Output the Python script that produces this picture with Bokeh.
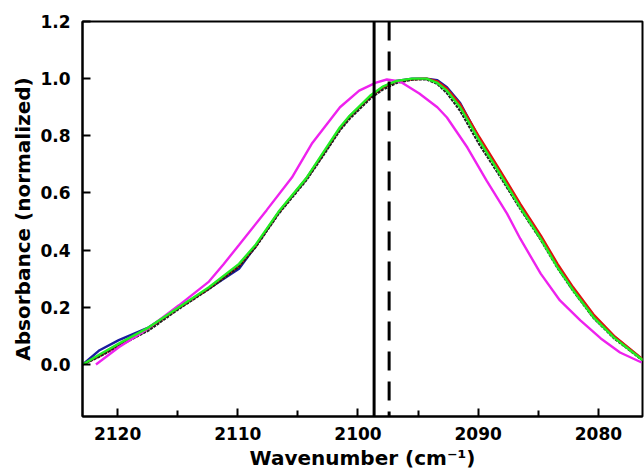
from bokeh.plotting import figure
from bokeh.models import Range1d, FixedTicker, Span, PrintfTickFormatter
from bokeh.embed import file_html
from bokeh.resources import INLINE

# ---- data ----
wn_main = [2122.9, 2121.5, 2119.9, 2117.4, 2114.9, 2112.4, 2109.9, 2108.5, 2106.6,
           2104.3, 2103.0, 2101.5, 2100.7, 2099.0, 2097.95, 2096.8, 2095.5, 2094.3,
           2093.4, 2092.6, 2091.5, 2089.9, 2088.2, 2086.5, 2084.8, 2083.4, 2082.1,
           2080.4, 2078.7, 2076.3]
abs_green = [0.0, 0.035, 0.073, 0.13, 0.2, 0.27, 0.352, 0.42, 0.535,
             0.652, 0.735, 0.83, 0.87, 0.94, 0.972, 0.992, 1.0, 1.0,
             0.985, 0.958, 0.9, 0.783, 0.668, 0.55, 0.44, 0.34, 0.26,
             0.165, 0.094, 0.015]
abs_blue = [0.0, 0.05, 0.085, 0.13, 0.2, 0.266, 0.335, 0.415, 0.532,
            0.65, 0.73, 0.825, 0.868, 0.935, 0.97, 0.992, 1.0, 1.0,
            0.995, 0.97, 0.915, 0.79, 0.675, 0.555, 0.445, 0.345, 0.265,
            0.17, 0.098, 0.016]
abs_red = [0.0, 0.03, 0.068, 0.125, 0.198, 0.266, 0.345, 0.415, 0.532,
           0.65, 0.73, 0.825, 0.866, 0.935, 0.968, 0.99, 0.998, 1.0,
           0.99, 0.965, 0.91, 0.795, 0.68, 0.562, 0.452, 0.352, 0.27,
           0.175, 0.1, 0.018]
abs_black = [0.0, 0.028, 0.065, 0.12, 0.195, 0.264, 0.342, 0.412, 0.528,
             0.645, 0.725, 0.82, 0.86, 0.93, 0.962, 0.985, 0.997, 0.998,
             0.982, 0.95, 0.888, 0.77, 0.66, 0.545, 0.437, 0.338, 0.258,
             0.163, 0.092, 0.014]

wn_magenta = [2121.8, 2119.9, 2117.4, 2114.9, 2112.4, 2111.2, 2109.9, 2107.6, 2105.5,
              2103.8, 2101.5, 2099.9, 2098.5, 2097.6, 2096.5, 2094.9, 2093.4, 2092.6,
              2090.9, 2089.3, 2087.6, 2086.5, 2084.8, 2083.2, 2081.5, 2079.8, 2078.2,
              2076.4]
abs_magenta = [0.0, 0.06, 0.128, 0.207, 0.29, 0.35, 0.418, 0.54, 0.654,
               0.775, 0.9, 0.958, 0.986, 0.997, 0.99, 0.948, 0.9, 0.864,
               0.759, 0.643, 0.528, 0.44, 0.318, 0.224, 0.154, 0.091, 0.042,
               0.007]

solid_line_wn = 2098.66
dashed_line_wn = 2097.41

x_ticks = [2120, 2110, 2100, 2090, 2080]
x_minor = [2115, 2105, 2095, 2085]
y_ticks = [0.0, 0.2, 0.4, 0.6, 0.8, 1.0, 1.2]

FONT = "DejaVu Sans"

p = figure(width=644, height=472, output_backend="svg", toolbar_location=None,
           x_range=Range1d(2122.92, 2076.33), y_range=Range1d(-0.182, 1.2),
           min_border_left=82, min_border_right=2, min_border_top=21, min_border_bottom=56)
p.background_fill_color = "white"
p.border_fill_color = "white"
p.grid.visible = False
p.outline_line_color = "black"
p.outline_line_width = 2
p.outline_line_alpha = 1.0

for ax in (p.xaxis[0], p.yaxis[0]):
    ax.axis_line_width = 2
    ax.axis_line_color = "black"
    ax.major_tick_in = 8
    ax.major_tick_out = 0
    ax.major_tick_line_width = 2
    ax.minor_tick_in = 6
    ax.minor_tick_out = 0
    ax.minor_tick_line_width = 2
    ax.major_label_text_font = FONT
    ax.major_label_text_font_style = "bold"
    ax.major_label_text_font_size = "17px"
    ax.major_label_text_color = "black"
    ax.axis_label_text_font = FONT
    ax.axis_label_text_font_style = "bold"
    ax.axis_label_text_font_size = "20px"
    ax.axis_label_text_color = "black"

p.xaxis.ticker = FixedTicker(ticks=x_ticks, minor_ticks=x_minor)
p.yaxis.ticker = FixedTicker(ticks=y_ticks, minor_ticks=[])
p.yaxis.formatter = PrintfTickFormatter(format="%.1f")
p.xaxis.major_label_standoff = 10
p.yaxis.major_label_standoff = 12
p.xaxis.axis_label = "Wavenumber (cm\u207b\u00b9)"
p.yaxis.axis_label = "Absorbance (normalized)"
p.xaxis.axis_label_standoff = 3
p.yaxis.axis_label_standoff = 2

lw = 2.4
p.line(wn_main, abs_blue, line_color="#1a1aa0", line_width=lw)
p.line(wn_main, abs_red, line_color="#e01010", line_width=lw)
p.line(wn_main, abs_black, line_color="#202020", line_width=lw, line_dash="3 1")
p.line(wn_magenta, abs_magenta, line_color="#ee22ee", line_width=lw)
p.line(wn_main, abs_green, line_color="#22ee22", line_width=lw)

p.add_layout(Span(location=solid_line_wn, dimension="height", line_color="black", line_width=3))
p.add_layout(Span(location=dashed_line_wn, dimension="height", line_color="black", line_width=3,
                  line_dash="19 11"))

open("out.html", "w").write(file_html(p, INLINE))
